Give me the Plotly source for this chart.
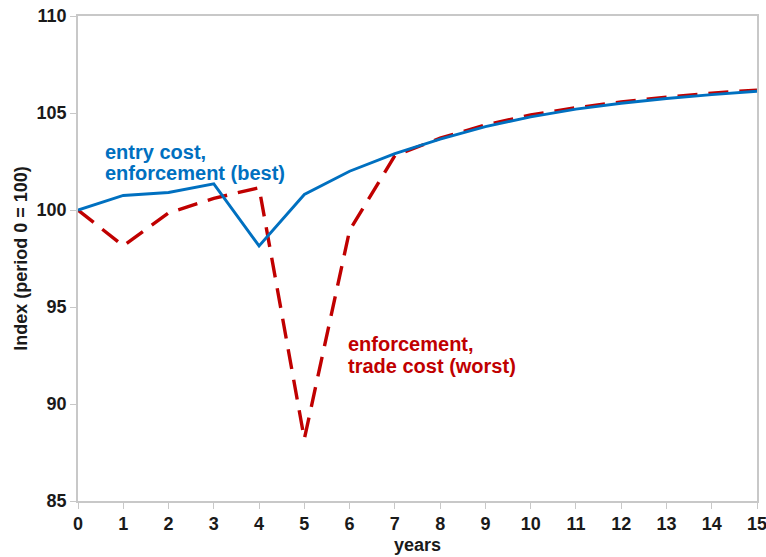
import plotly.graph_objects as go

years = list(range(16))
best = [100.0, 100.75, 100.9, 101.35, 98.15, 100.8, 102.0, 102.9, 103.65, 104.3, 104.8, 105.2, 105.5, 105.75, 105.95, 106.12]
worst = [100.0, 98.15, 99.85, 100.6, 101.15, 88.2, 98.95, 102.8, 103.7, 104.38, 104.9, 105.27, 105.57, 105.82, 106.02, 106.18]

x_ticks = list(range(16))
y_ticks = [85, 90, 95, 100, 105, 110]

blue_label = ["entry cost,", "enforcement (best)"]
red_label = ["enforcement,", "trade cost (worst)"]

blue = "#0070C0"
red = "#C00000"
grey = "#C8C8C8"
dark = "#1a1a1a"
font = "Liberation Sans, Arial, sans-serif"

fig = go.Figure()
fig.add_trace(go.Scatter(x=years, y=worst, mode="lines",
                         line=dict(color=red, width=3.4, dash="20px,11px"), name="worst"))
fig.add_trace(go.Scatter(x=years, y=best, mode="lines",
                         line=dict(color=blue, width=2.9), name="best"))

for txt, yv in zip(blue_label, [103.0, 101.9]):
    fig.add_annotation(x=0.56, y=yv, xref="x", yref="y",
                       text="<b>%s</b>" % txt, showarrow=False,
                       xanchor="left", yanchor="middle", align="left",
                       font=dict(family=font, size=20, color=blue))
for txt, yv in zip(red_label, [93.1, 91.95]):
    fig.add_annotation(x=5.93, y=yv, xref="x", yref="y",
                       text="<b>%s</b>" % txt, showarrow=False,
                       xanchor="left", yanchor="middle", align="left",
                       font=dict(family=font, size=20, color=red))

# axis titles
fig.add_annotation(x=0.5, y=-0.091, xref="paper", yref="paper", yanchor="middle",
                   text="<b>years</b>", showarrow=False,
                   font=dict(family=font, size=18, color=dark))
fig.add_annotation(x=-0.085, y=0.5, xref="paper", yref="paper", xanchor="center",
                   text="<b>Index (period 0 = 100)</b>", showarrow=False, textangle=-90,
                   font=dict(family=font, size=18, color=dark))

fig.update_layout(
    width=766, height=557,
    margin=dict(l=78, r=9, t=16, b=56),
    paper_bgcolor="white", plot_bgcolor="white",
    showlegend=False,
    font=dict(family=font, color=dark),
)
fig.update_xaxes(range=[0, 15], tickvals=x_ticks, ticktext=["<b>%d</b>" % v for v in x_ticks],
                 showgrid=False, zeroline=False, showline=True, linecolor=grey, linewidth=1.5,
                 mirror=True, ticks="outside", ticklen=6, tickcolor=grey, automargin=False,
                 ticklabeloverflow="allow",
                 tickfont=dict(family=font, size=18, color=dark))
fig.update_yaxes(range=[85, 110], tickvals=y_ticks, ticktext=["<b>%d</b>" % v for v in y_ticks],
                 showgrid=False, zeroline=False, showline=True, linecolor=grey, linewidth=1.5,
                 mirror=True, ticks="outside", ticklen=6, tickcolor=grey, automargin=False,
                 ticklabeloverflow="allow",
                 tickfont=dict(family=font, size=18, color=dark))

fig.write_html("out.html", config={"displayModeBar": False},
               post_script="document.body.style.margin='0';document.body.style.overflow='hidden';")
